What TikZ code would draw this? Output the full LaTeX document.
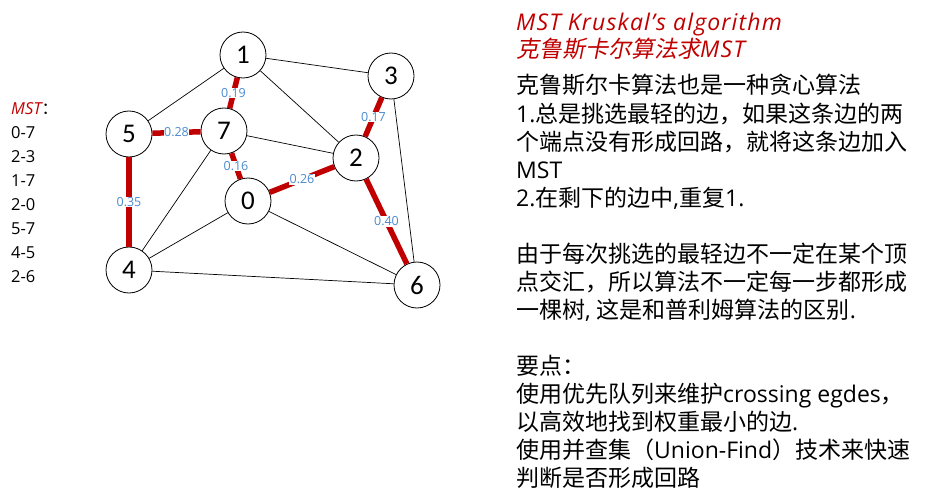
\documentclass[tikz,border=0pt]{standalone}
\usepackage{fontspec}
\setmainfont{Noto Sans CJK SC}
\newfontfamily\cjk{Noto Sans CJK SC}
\newfontfamily\cjkit[FakeSlant=0.2]{Noto Sans CJK SC}
\newfontfamily\lat{Open Sans}
\newfontfamily\latit{Open Sans Italic}
\newfontfamily\latitw[LetterSpace=5]{Open Sans Italic}
\newfontfamily\digits{Carlito}
\definecolor{mstred}{HTML}{C00000}
\definecolor{wblue}{HTML}{4A8AD0}
\begin{document}
\begin{tikzpicture}[x=1pt,y=-1pt,
  vert/.style={circle,draw=black,line width=0.8pt,fill=white,minimum size=46pt,inner sep=0pt,font=\digits\fontsize{27}{27}\selectfont},
  thin edge/.style={draw=black,line width=0.7pt},
  mst edge/.style={draw=mstred,line width=5.5pt},
  wlabel/.style={fill=white,inner sep=0.6pt,text=wblue,font=\lat\fontsize{12.5}{13}\selectfont},
  body/.style={anchor=base west,inner sep=0pt,font=\cjk\fontsize{23}{24}\selectfont},
  ttl/.style={anchor=base west,inner sep=0pt,text=mstred,font=\cjkit\fontsize{23}{24}\selectfont},
  lst/.style={anchor=base west,inner sep=0pt,font=\lat\fontsize{16.5}{17}\selectfont}]
\useasboundingbox (0,0) rectangle (932,503);
% vertices
\node[vert] (n1) at (243,55) {1};
\node[vert] (n3) at (391,76) {3};
\node[vert] (n5) at (129,134) {5};
\node[vert] (n7) at (224,131) {7};
\node[vert] (n2) at (356,158) {2};
\node[vert] (n0) at (248,201) {0};
\node[vert] (n4) at (129,270) {4};
\node[vert] (n6) at (417,285) {6};
% thin edges
\draw[thin edge] (n1) -- (n5);
\draw[thin edge] (n1) -- (n3);
\draw[thin edge] (n1) -- (n2);
\draw[thin edge] (n7) -- (n2);
\draw[thin edge] (n7) -- (n4);
\draw[thin edge] (n0) -- (n4);
\draw[thin edge] (n0) -- (n6);
\draw[thin edge] (n4) -- (n6);
\draw[thin edge] (n3) -- (n6);
% MST edges
\draw[mst edge] (n1) -- node[wlabel] {0.19} (n7);
\draw[mst edge] (n5) -- node[wlabel] {0.28} (n7);
\draw[mst edge] (n7) -- node[wlabel] {0.16} (n0);
\draw[mst edge] (n0) -- node[wlabel] {0.26} (n2);
\draw[mst edge] (n3) -- node[wlabel] {0.17} (n2);
\draw[mst edge] (n2) -- node[wlabel] {0.40} (n6);
\draw[mst edge] (n5) -- node[wlabel] {0.35} (n4);
% MST list
\node[lst] (l0) at (11,114) {{\latit\color{mstred}MST}{\cjk ：}};
\node[lst] (l1) at (11,138) {0-7};
\node[lst] (l2) at (11,162) {2-3};
\node[lst] (l3) at (11,186) {1-7};
\node[lst] (l4) at (11,210) {2-0};
\node[lst] (l5) at (11,234) {5-7};
\node[lst] (l6) at (11,258) {4-5};
\node[lst] (l7) at (11,282) {2-6};
% title
\node[ttl] (t1) at (516,31) {\latitw MST Kruskal’s algorithm};
\node[ttl] (t2) at (516,58) {克鲁斯卡尔算法求{\latitw MST}};
% body
\node[body] (b1) at (516,94) {克鲁斯尔卡算法也是一种贪心算法};
\node[body] (b2) at (516,122) {{\lat 1.}总是挑选最轻的边，如果这条边的两};
\node[body] (b3) at (516,150) {个端点没有形成回路，就将这条边加入};
\node[body] (b4) at (516,178) {\lat MST};
\node[body] (b5) at (516,206) {{\lat 2.}在剩下的边中{\lat ,}重复{\lat 1.}};
\node[body] (b6) at (516,262) {由于每次挑选的最轻边不一定在某个顶};
\node[body] (b7) at (516,290) {点交汇，所以算法不一定每一步都形成};
\node[body] (b8) at (516,318) {一棵树{\lat , }这是和普利姆算法的区别{\lat .}};
\node[body] (b9) at (516,374) {要点：};
\node[body] (b10) at (516,402) {使用优先队列来维护{\lat crossing egdes}，};
\node[body] (b11) at (516,430) {以高效地找到权重最小的边{\lat .}};
\node[body] (b12) at (516,458) {使用并查集（{\lat Union-Find}）技术来快速};
\node[body] (b13) at (516,486) {判断是否形成回路};
\end{tikzpicture}
\end{document}
